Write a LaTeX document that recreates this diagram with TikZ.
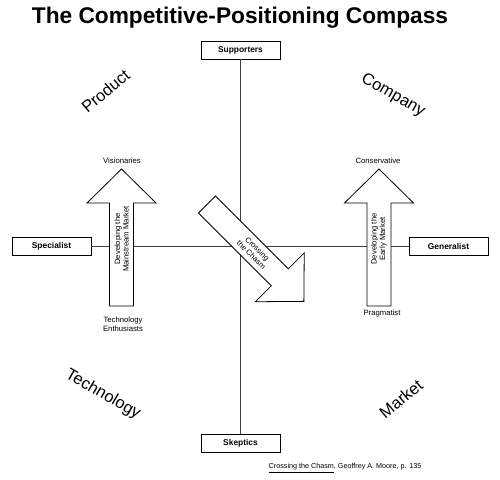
\documentclass[tikz,border=0pt]{standalone}
\usepackage{fontspec}
\setmainfont{Liberation Sans}
\usepackage{tikz}

\begin{document}
\begin{tikzpicture}[x=1pt, y=-1pt,
    pole/.style={draw=black, line width=0.8pt, fill=white, minimum width=79pt,
                 minimum height=18pt, inner sep=0pt,
                 font=\fontsize{8.4}{10}\selectfont\bfseries},
    axis/.style={draw=black!75, line width=0.8pt},
    bigarrow/.style={draw=black, line width=0.8pt, fill=white, line join=miter},
    quad/.style={font=\fontsize{16.5}{18}\selectfont},
    tag/.style={font=\fontsize{7.7}{8.5}\selectfont, align=center, inner sep=0pt}]
  \useasboundingbox (0,0) rectangle (500,479);
  \node[font=\fontsize{22.7}{26}\selectfont\bfseries, anchor=base] (title) at (240,23)
        {The Competitive-Positioning Compass};

  \node[pole] (supporters) at (240.5,50) {Supporters};
  \node[pole] (skeptics) at (240.5,443) {Skeptics};
  \node[pole] (specialist) at (51.5,246) {Specialist};
  \node[pole] (generalist) at (448.5,246) {Generalist};
  \draw[axis] (supporters) -- (skeptics);
  \draw[axis] (specialist) -- (generalist);

  \foreach \name/\x/\y/\r/\txt in {mainstream/121.5/306/0/{Developing the\\Mainstream Market},
      early/379/306/0/{Developing the\\Early Market},
      chasm/207/204.5/-135/{Crossing\\the Chasm}} {
    \draw[bigarrow, shift={(\x,\y)}, rotate=\r] (-12,0) -- (-12,-103) -- (-34.5,-103)
        -- (0,-137) -- (34.5,-103) -- (12,-103) -- (12,0) -- cycle;
    \path[shift={(\x,\y)}, rotate=\r] (0,-67) node[tag, rotate=\r+90] (\name) {\txt};
  }

  \node[tag] (visionaries) at (122,161) {Visionaries};
  \node[tag] (conservative) at (378,161) {Conservative};
  \node[tag] (enthusiasts) at (123,324) {Technology\\Enthusiasts};
  \node[tag] (pragmatist) at (382,314) {Pragmatist};

  \node[quad, rotate=40] (product) at (105.5,91) {Product};
  \node[quad, rotate=-30] (company) at (393,95.5) {Company};
  \node[quad, rotate=-30] (technology) at (103,394.5) {Technology};
  \node[quad, rotate=40] (market) at (401,399) {Market};

  \node[tag, font=\fontsize{7.2}{8.5}\selectfont] (source) at (345,468)
        {\underline{Crossing the Chasm}, Geoffrey A. Moore, p. 135};
\end{tikzpicture}
\end{document}
